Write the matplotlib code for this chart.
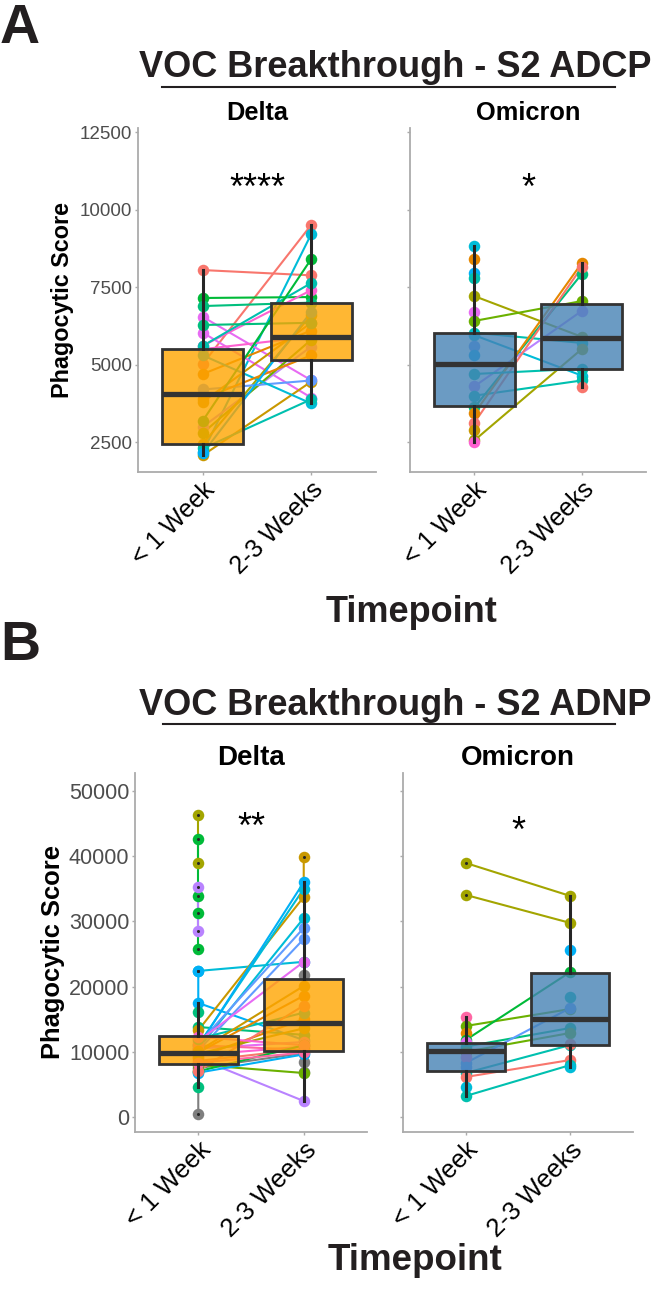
import numpy as np
import matplotlib.pyplot as plt
from matplotlib.colors import to_rgba
from matplotlib.lines import Line2D

plt.rcParams['font.family'] = ['Liberation Sans', 'DejaVu Sans']

W, H = 653, 1289

# ggplot hue palette (15 subjects colours) + grey for NA
palette = ['#F8766D', '#E58700', '#C99800', '#A3A500', '#6BB100', '#00BA38',
           '#00BF7D', '#00C0AF', '#00BCD8', '#00B0F6', '#619CFF', '#B983FF',
           '#E76BF3', '#FD61D1', '#FF67A4', '#7F7F7F']

timepoints = ['< 1 Week', '2-3 Weeks']
variants = ['Delta', 'Omicron']

# ---------------- A: S2 ADCP ----------------
a_delta_colour = [0, 0, 8, 5, 6, 12, 13, 12, 13, 7, 11, 4, 2, 3, 1, 10, 8, 7, 1, 2, 9, 6, 5]
a_delta_subject = [0, 0, 1, 1, 2, 2, 3, 3, 4, 4, 5, 5, 6, 6, 7, 7, 8, 8, 9, 9, 10, 10, 11, 11,
                   12, 12, 13, 13, 14, 14, 15, 15, 16, 16, 17, 17, 18, 18, 19, 19, 20, 20,
                   21, 21, 22, 22]
a_delta_week = [0, 1] * 23
a_delta_score = [8050, 7880, 5030, 9500, 2200, 9200, 7150, 7180, 6890, 7000, 6540, 4500,
                 5610, 7400, 6030, 3940, 5500, 5900, 5610, 7630, 3000, 5580, 2800, 5800,
                 2080, 4450, 2450, 6600, 4700, 6100, 4200, 4490, 5300, 3750, 2300, 3880,
                 3900, 5300, 3800, 6350, 2150, 6700, 6280, 6350, 3200, 8400]

a_omicron_colour = [8, 1, 9, 7, 3, 12, 4, 7, 8, 10, 9, 11, 7, 6, 1, 0, 2, 3, 13, 0, 7]
a_omicron_subject = [0, 1, 2, 3, 4, 4, 5, 6, 6, 7, 7, 8, 8, 9, 10, 11, 11, 12, 12,
                     13, 13, 14, 14, 15, 15, 16, 17, 17, 18, 19, 20, 20]
a_omicron_week = [0, 0, 0, 0, 0, 1, 0, 0, 1, 0, 1, 0, 1, 0, 0, 0, 1, 0, 1,
                  0, 1, 0, 1, 0, 1, 0, 0, 1, 0, 1, 0, 1]
a_omicron_score = [8820, 8400, 7950, 7790, 7210, 5900, 6700, 6410, 7050, 6030, 5700,
                   5950, 4650, 5600, 5300, 4300, 6730, 4000, 4490, 3620, 7920, 3430, 8270,
                   3130, 8140, 2890, 2560, 5500, 2500, 4270, 4700, 4870]

# box statistics: [< 1 Week, 2-3 Weeks]
a_delta_box = {'q1': [2430, 5160], 'med': [4050, 5880], 'q3': [5510, 6990],
               'whislo': [2080, 3750], 'whishi': [8050, 9500]}
a_omicron_box = {'q1': [3680, 4870], 'med': [5030, 5860], 'q3': [6026, 6955],
                 'whislo': [2500, 4270], 'whishi': [8820, 8270]}

# ---------------- B: S2 ADNP ----------------
b_delta_colour = [3, 5, 11, 8, 9, 6, 2, 8, 9, 8, 10, 10, 12, 15, 4, 11, 12, 13, 14, 0,
                  1, 7, 5, 6, 9, 1, 2, 0, 3, 14, 13]
b_delta_subject = [0, 0, 1, 1, 1, 1, 2, 2, 3, 3, 4, 4, 4, 5, 5, 5, 6, 6, 6, 7, 7, 8, 8,
                   9, 9, 10, 10, 11, 11, 12, 12, 13, 13, 13, 13, 13, 13, 14, 14, 15, 15,
                   16, 16, 17, 17, 18, 18, 19, 19, 20, 20, 21, 21, 22, 22, 23, 23, 24, 24,
                   25, 25, 26, 26, 27, 27, 28, 28, 29, 29, 30, 30]
b_delta_week = [0, 0, 0, 0, 0, 0, 0, 0, 0, 1, 0, 0, 1, 0, 0, 1, 0, 1, 1, 0, 1, 0, 1,
                0, 1, 0, 1, 0, 1, 0, 1, 0, 0, 1, 1, 1, 1, 0, 1, 0, 1,
                0, 1, 0, 1, 0, 1, 0, 1, 0, 1, 0, 1, 0, 1, 0, 0, 0, 1,
                0, 1, 0, 1, 0, 1, 0, 1, 0, 1, 0, 1]
b_delta_score = [46300, 38960, 42640, 33900, 31290, 25770, 35280, 28530, 22400, 23800,
                 22400, 17490, 11800, 16100, 13800, 12600, 13300, 33750, 39890,
                 11000, 35000, 10800, 36000, 10500, 30500, 11200, 28990, 10200, 27300,
                 11600, 23800, 460, 7500, 9800, 8440, 6900, 21800, 8000, 6750,
                 9000, 2450, 10500, 11500, 9500, 10800, 11000, 10300, 8600, 10400,
                 9200, 15000, 12000, 16000, 7000, 11000, 4650, 6900, 6800, 9600,
                 9900, 18600, 10100, 20100, 7100, 17100, 9700, 13600, 8300, 9900,
                 12300, 11000]

b_omicron_colour = [3, 3, 14, 4, 1, 5, 12, 6, 4, 10, 7, 0, 8, 7, 9, 7, 8, 0, 13, 10]
b_omicron_subject = [0, 0, 1, 1, 2, 3, 3, 4, 5, 5, 6, 7, 7, 8, 8, 9, 9, 10, 10, 11, 11,
                     12, 13, 13, 14, 15, 16, 17, 18, 19]
b_omicron_week = [0, 1, 0, 1, 0, 0, 1, 0, 0, 1, 0, 0, 1, 0, 1, 0, 1, 0, 1, 0, 1,
                  0, 0, 1, 1, 1, 1, 1, 0, 0]
b_omicron_score = [38960, 33900, 34060, 29760, 15340, 13960, 16560, 12890, 11810, 22240,
                   11500, 10800, 13650, 10000, 12890, 8280, 16720, 6750, 11040, 6140, 8740,
                   4600, 3220, 7970, 25620, 18410, 7670, 11200, 9200, 7600]

b_delta_box = {'q1': [8080, 10170], 'med': [9770, 14370], 'q3': [12420, 21120],
               'whislo': [4650, 2450], 'whishi': [17490, 36000]}
b_omicron_box = {'q1': [7100, 11040], 'med': [10120, 14980], 'q3': [11300, 22040],
                 'whislo': [3220, 7670], 'whishi': [15340, 33900]}

a_signif = ['****', '*']
b_signif = ['**', '*']


fig = plt.figure(figsize=(W / 100, H / 100), dpi=100)


def px_axes(x0, y0, x1, y1):
    return fig.add_axes([x0 / W, 1 - y1 / H, (x1 - x0) / W, (y1 - y0) / H])


def ftext(x, y, s, **kw):
    fig.text(x / W, 1 - y / H, s, **kw)


def panel(ax, subject, week, score, colour, box, fill, ylim, yticks, ylabels,
          stars, star_y, xfs, yfs):
    subject = np.array(subject)
    week = np.array(week)
    score = np.array(score, dtype=float)
    xpos = week + 1
    # paired lines per subject
    for s in np.unique(subject):
        idx = np.where(subject == s)[0]
        idx = idx[np.argsort(week[idx], kind='stable')]
        if len(idx) > 1:
            ax.plot(xpos[idx], score[idx], color=palette[colour[s]], lw=1.5,
                    zorder=2, solid_capstyle='butt')
    for i in range(len(score)):
        ax.plot(xpos[i], score[i], 'o', ms=8.3, color=palette[colour[subject[i]]],
                mec='none', zorder=3)
    stats = []
    for k in range(2):
        vals = score[week == k]
        fl = vals[(vals > box['whishi'][k]) | (vals < box['whislo'][k])]
        stats.append({'q1': box['q1'][k], 'med': box['med'][k], 'q3': box['q3'][k],
                      'whislo': box['whislo'][k], 'whishi': box['whishi'][k],
                      'fliers': fl})
    ax.bxp(stats, positions=[1, 2], widths=0.75, patch_artist=True, showcaps=False,
           boxprops=dict(facecolor=to_rgba(fill, 0.8), edgecolor='#333333', linewidth=2),
           medianprops=dict(color='#333333', linewidth=3.8, solid_capstyle='butt'),
           whiskerprops=dict(color='#262626', linewidth=2.2),
           flierprops=dict(marker='o', markersize=2.2, markerfacecolor='#262626',
                           markeredgecolor='none'),
           zorder=4)
    ax.text(1.5, star_y, stars, ha='center', va='center', fontsize=26, zorder=5)
    ax.set_xlim(0.4, 2.6)
    ax.set_ylim(*ylim)
    ax.set_yticks(yticks)
    if ylabels:
        ax.set_yticklabels([str(t) for t in yticks], fontsize=yfs, color='#4D4D4D')
    else:
        ax.set_yticklabels([])
    ax.set_xticks([1, 2])
    ax.set_xticklabels(timepoints, rotation=45, ha='right', va='top',
                       rotation_mode='anchor', fontsize=xfs, color='black')
    for sp in ['top', 'right']:
        ax.spines[sp].set_visible(False)
    for sp in ['left', 'bottom']:
        ax.spines[sp].set_color('#ABABAB')
        ax.spines[sp].set_linewidth(1.3)
    ax.tick_params(axis='both', color='#ABABAB', length=2.5, width=1, pad=1.5)
    ax.set_facecolor('none')


# ----- panel A -----
ftext(0, 43, 'A', fontsize=40, weight='bold', ha='left', va='baseline', color='#231F20')
ftext(395, 77, 'VOC Breakthrough - S2 ADCP', fontsize=26, weight='bold',
      ha='center', va='baseline', color='#231F20')
fig.add_artist(Line2D([162 / W, 615 / W], [1 - 87 / H, 1 - 87 / H], color='#231F20', lw=1.5))
ftext(257, 120, variants[0], fontsize=18.3, weight='bold', ha='center', va='baseline')
ftext(528, 120, variants[1], fontsize=18.3, weight='bold', ha='center', va='baseline')

a_yticks = [2500, 5000, 7500, 10000, 12500]
ax1 = px_axes(138, 128, 376, 472)
panel(ax1, a_delta_subject, a_delta_week, a_delta_score, a_delta_colour, a_delta_box,
      'orange', (1540, 12630), a_yticks, True, a_signif[0], 10640, 18, 13.5)
ax2 = px_axes(410, 128, 646, 472)
panel(ax2, a_omicron_subject, a_omicron_week, a_omicron_score, a_omicron_colour,
      a_omicron_box, 'steelblue', (1540, 12630), a_yticks, False, a_signif[1], 10640, 18, 13.5)
ftext(63, 300, 'Phagocytic Score', fontsize=16.8, weight='bold', rotation=90,
      ha='center', va='center')
ftext(412, 622, 'Timepoint', fontsize=26, weight='bold', ha='center', va='baseline',
      color='#231F20')

# ----- panel B -----
ftext(0, 660, 'B', fontsize=40, weight='bold', ha='left', va='baseline', color='#231F20')
ftext(395, 715, 'VOC Breakthrough - S2 ADNP', fontsize=26, weight='bold',
      ha='center', va='baseline', color='#231F20')
fig.add_artist(Line2D([163 / W, 615 / W], [1 - 724 / H, 1 - 724 / H], color='#231F20', lw=1.5))
ftext(251, 765, variants[0], fontsize=20, weight='bold', ha='center', va='baseline')
ftext(518, 765, variants[1], fontsize=20, weight='bold', ha='center', va='baseline')

b_yticks = [0, 10000, 20000, 30000, 40000, 50000]
ax3 = px_axes(135, 773, 367, 1132)
panel(ax3, b_delta_subject, b_delta_week, b_delta_score, b_delta_colour, b_delta_box,
      'orange', (-2300, 52760), b_yticks, True, b_signif[0], 44180, 18.5, 15.5)
ax4 = px_axes(403, 773, 633, 1132)
panel(ax4, b_omicron_subject, b_omicron_week, b_omicron_score, b_omicron_colour,
      b_omicron_box, 'steelblue', (-2300, 52760), b_yticks, False, b_signif[1], 43570, 18.5, 15.5)
ftext(53, 952, 'Phagocytic Score', fontsize=18.4, weight='bold', rotation=90,
      ha='center', va='center')
ftext(415, 1270, 'Timepoint', fontsize=26.5, weight='bold', ha='center', va='baseline',
      color='#231F20')

fig.savefig('out.png', dpi=100)
